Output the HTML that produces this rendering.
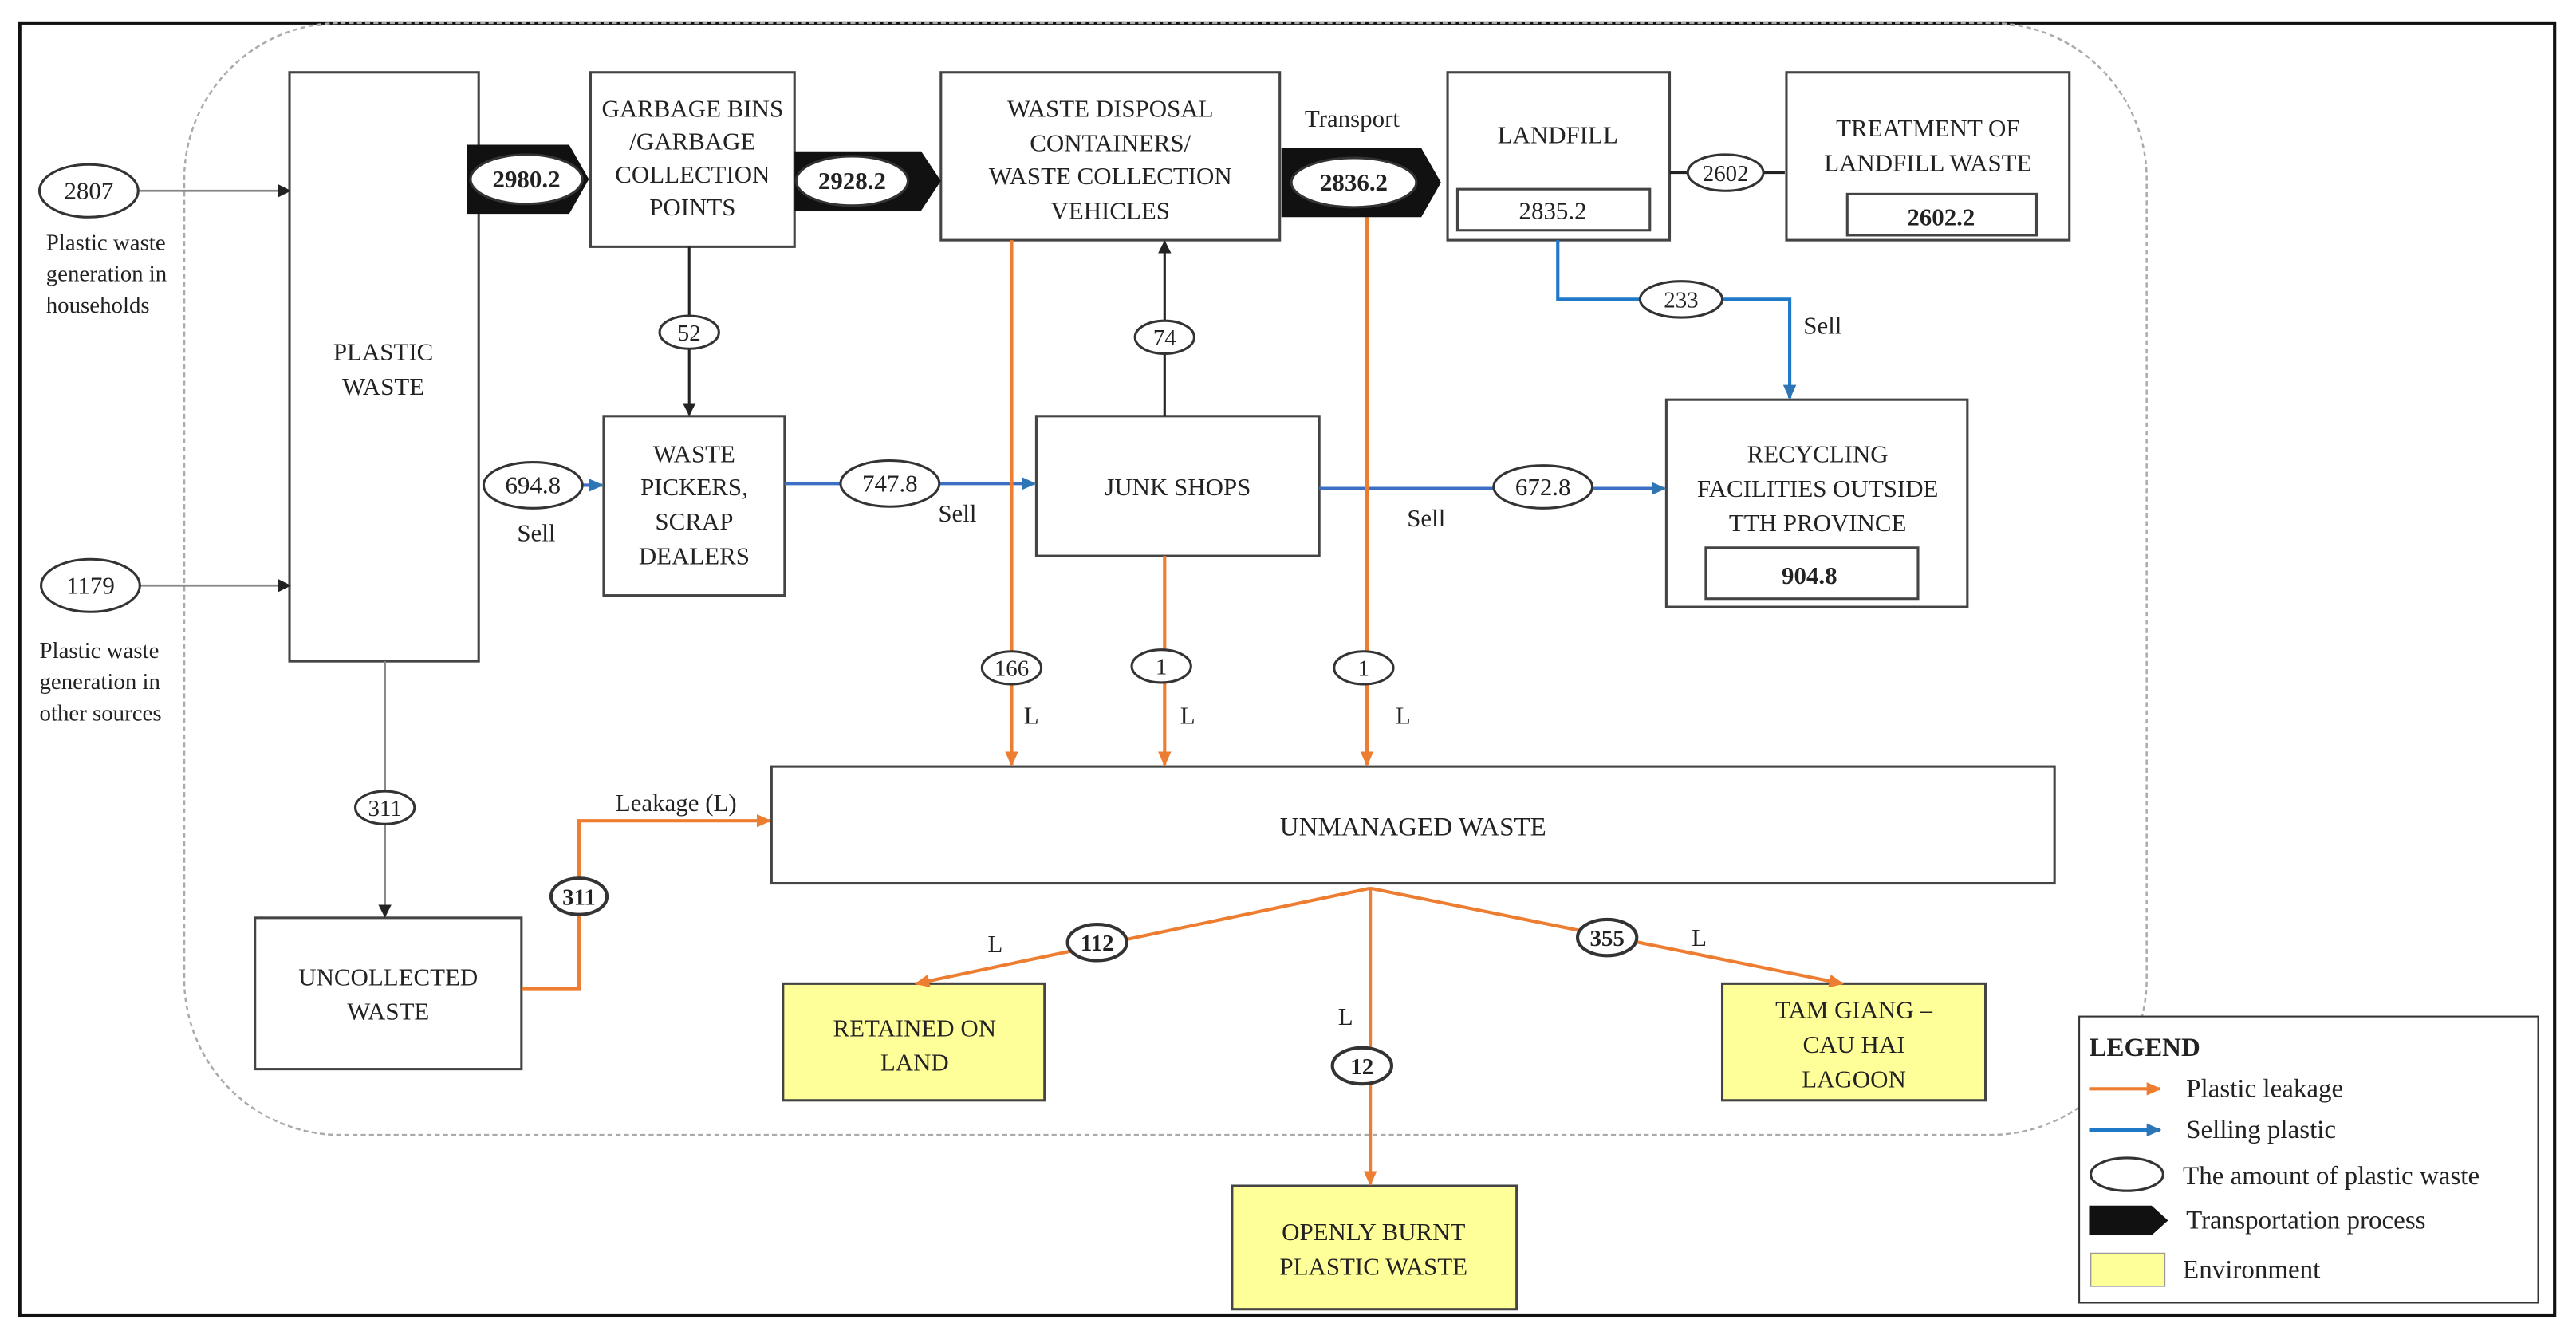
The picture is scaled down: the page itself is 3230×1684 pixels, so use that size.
<!DOCTYPE html>
<html><head><meta charset="utf-8"><style>
html,body{margin:0;padding:0;background:#fff;}
svg{display:block;}
svg text{font-family:'Liberation Serif','Times New Roman','DejaVu Serif',serif;fill:#222;}
</style></head><body>
<svg width="3230" height="1684" viewBox="0 0 1566 816.5" preserveAspectRatio="none" xmlns="http://www.w3.org/2000/svg" font-family="Liberation Serif, Times New Roman, DejaVu Serif, serif">
<defs>
<marker id="ab" markerWidth="8" markerHeight="8" refX="7" refY="4" orient="auto" markerUnits="userSpaceOnUse"><path d="M0,0 L8,4 L0,8 z" fill="#222"/></marker>
<marker id="ag" markerWidth="8" markerHeight="8" refX="7" refY="4" orient="auto" markerUnits="userSpaceOnUse"><path d="M0,0 L8,4 L0,8 z" fill="#222"/></marker>
<marker id="ao" markerWidth="9" markerHeight="8" refX="8" refY="4" orient="auto" markerUnits="userSpaceOnUse"><path d="M0,0 L9,4 L0,8 z" fill="#ed7d31"/></marker>
<marker id="abl" markerWidth="9" markerHeight="8" refX="8" refY="4" orient="auto" markerUnits="userSpaceOnUse"><path d="M0,0 L9,4 L0,8 z" fill="#2e75b6"/></marker>
</defs>
<rect x="12" y="14" width="1541" height="786" fill="#fff" stroke="#111" stroke-width="2"/>
<rect x="112" y="14" width="1193" height="676" rx="95" ry="95" fill="none" stroke="#aaa" stroke-width="1.2" stroke-dasharray="3,2"/>
<g stroke="#444" stroke-width="1.5" fill="#fff">
<rect x="176" y="44" width="115" height="358"/>
<rect x="359" y="44" width="124" height="106"/>
<rect x="572" y="44" width="206" height="102"/>
<rect x="880" y="44" width="135" height="102"/>
<rect x="886" y="115" width="117" height="25"/>
<rect x="1086" y="44" width="172" height="102"/>
<rect x="1123" y="118" width="115" height="25"/>
<rect x="1013" y="243" width="183" height="126"/>
<rect x="1037" y="333" width="129" height="31"/>
<rect x="367" y="253" width="110" height="109"/>
<rect x="630" y="253" width="172" height="85"/>
<rect x="469" y="466" width="780" height="71"/>
<rect x="155" y="558" width="162" height="92"/>
<rect x="476" y="598" width="159" height="71" fill="#ffff99"/>
<rect x="1047" y="598" width="160" height="71" fill="#ffff99"/>
<rect x="749" y="721" width="173" height="75" fill="#ffff99"/>
<rect x="1264" y="618" width="279" height="174" stroke="#333" stroke-width="1"/>
</g>
<g stroke="#888" stroke-width="1.3" fill="none">
<line x1="84" y1="116" x2="176" y2="116" marker-end="url(#ag)"/>
<line x1="85" y1="356" x2="176" y2="356" marker-end="url(#ag)"/>
<line x1="234" y1="402" x2="234" y2="557" marker-end="url(#ag)"/>
</g>
<g stroke="#222" stroke-width="1.5" fill="none">
<line x1="419" y1="150" x2="419" y2="252" marker-end="url(#ab)"/>
<line x1="708" y1="253" x2="708" y2="147" marker-end="url(#ab)"/>
<line x1="1015" y1="105" x2="1085" y2="105"/>
</g>
<g stroke="#3b6fc4" stroke-width="2" fill="none">
<line x1="354" y1="295" x2="366" y2="295" marker-end="url(#abl)"/>
<line x1="477" y1="294" x2="629" y2="294" marker-end="url(#abl)"/>
<line x1="802" y1="297" x2="1012" y2="297" marker-end="url(#abl)"/>
<polyline points="947,146 947,182 1088,182 1088,242" stroke="#1f78c8" marker-end="url(#abl)"/>
</g>
<g stroke="#ed7d31" stroke-width="2" fill="none">
<line x1="615" y1="146" x2="615" y2="465" marker-end="url(#ao)"/>
<line x1="708" y1="338" x2="708" y2="465" marker-end="url(#ao)"/>
<line x1="831" y1="132" x2="831" y2="465" marker-end="url(#ao)"/>
<polyline points="317,601 352,601 352,499 468,499" marker-end="url(#ao)"/>
<line x1="833" y1="540" x2="557" y2="598" marker-end="url(#ao)"/>
<line x1="833" y1="540" x2="833" y2="720" marker-end="url(#ao)"/>
<line x1="833" y1="540" x2="1120" y2="598" marker-end="url(#ao)"/>
</g>
<g fill="#111">
<polygon points="284,88 346,88 358,109 346,130 284,130"/>
<polygon points="483,92 560,92 572,110 560,128 483,128"/>
<polygon points="779,90 864,90 876,111 864,132 779,132"/>
<polygon points="1270,733 1308,733 1318,742 1308,751 1270,751"/>
</g>
<g fill="#fff" stroke="#333" stroke-width="1.5">
<ellipse cx="54" cy="116" rx="30" ry="16"/>
<ellipse cx="55" cy="356" rx="30" ry="16"/>
<ellipse cx="320" cy="109" rx="34" ry="15"/>
<ellipse cx="518" cy="110" rx="34" ry="15"/>
<ellipse cx="823" cy="111" rx="38" ry="15"/>
<ellipse cx="1049" cy="105" rx="23" ry="11"/>
<ellipse cx="1022" cy="182" rx="25" ry="11"/>
<ellipse cx="419" cy="202" rx="18" ry="10"/>
<ellipse cx="708" cy="205" rx="18" ry="10"/>
<ellipse cx="324" cy="295" rx="30" ry="14"/>
<ellipse cx="541" cy="294" rx="30" ry="14"/>
<ellipse cx="938" cy="296" rx="30" ry="13"/>
<ellipse cx="615" cy="406" rx="18" ry="10"/>
<ellipse cx="706" cy="405" rx="18" ry="10"/>
<ellipse cx="829" cy="406" rx="18" ry="10"/>
<ellipse cx="234" cy="491" rx="18" ry="10"/>
<ellipse cx="352" cy="545" rx="17" ry="11" stroke-width="2"/>
<ellipse cx="667" cy="573" rx="18" ry="11" stroke-width="2"/>
<ellipse cx="977" cy="570" rx="18" ry="11" stroke-width="2"/>
<ellipse cx="828" cy="648" rx="18" ry="11" stroke-width="2"/>
<ellipse cx="1293" cy="714" rx="22" ry="10"/>
</g>
<rect x="1271" y="762" width="45" height="20" fill="#ffff99" stroke="#999" stroke-width="0.8"/>
<line x1="1270" y1="662" x2="1313" y2="662" stroke="#ed7d31" stroke-width="2" marker-end="url(#ao)"/>
<line x1="1270" y1="687" x2="1313" y2="687" stroke="#1f78c8" stroke-width="2" marker-end="url(#abl)"/>
<g font-size="15" text-anchor="middle">
<text x="54" y="121">2807</text>
<text x="55" y="361">1179</text>
<text x="320" y="114" font-weight="bold">2980.2</text>
<text x="518" y="115" font-weight="bold">2928.2</text>
<text x="823" y="116" font-weight="bold">2836.2</text>
<text x="1049" y="110" font-size="14">2602</text>
<text x="1022" y="187" font-size="14">233</text>
<text x="419" y="207" font-size="14">52</text>
<text x="708" y="210" font-size="14">74</text>
<text x="324" y="300">694.8</text>
<text x="541" y="299">747.8</text>
<text x="938" y="301">672.8</text>
<text x="615" y="411" font-size="14">166</text>
<text x="706" y="410" font-size="14">1</text>
<text x="829" y="411" font-size="14">1</text>
<text x="234" y="496" font-size="14">311</text>
<text x="352" y="550" font-size="14" font-weight="bold">311</text>
<text x="667" y="578" font-size="14" font-weight="bold">112</text>
<text x="977" y="575" font-size="14" font-weight="bold">355</text>
<text x="828" y="653" font-size="14" font-weight="bold">12</text>
<text x="233" y="219">PLASTIC</text>
<text x="233" y="240">WASTE</text>
<text x="421" y="71">GARBAGE BINS</text>
<text x="421" y="91">/GARBAGE</text>
<text x="421" y="111">COLLECTION</text>
<text x="421" y="131">POINTS</text>
<text x="675" y="71">WASTE DISPOSAL</text>
<text x="675" y="92">CONTAINERS/</text>
<text x="675" y="112">WASTE COLLECTION</text>
<text x="675" y="133">VEHICLES</text>
<text x="822" y="77">Transport</text>
<text x="947" y="87">LANDFILL</text>
<text x="944" y="133">2835.2</text>
<text x="1172" y="83">TREATMENT OF</text>
<text x="1172" y="104">LANDFILL WASTE</text>
<text x="1180" y="137" font-weight="bold">2602.2</text>
<text x="1108" y="203">Sell</text>
<text x="1105" y="281">RECYCLING</text>
<text x="1105" y="302">FACILITIES OUTSIDE</text>
<text x="1105" y="323">TTH PROVINCE</text>
<text x="1100" y="355" font-weight="bold">904.8</text>
<text x="422" y="281">WASTE</text>
<text x="422" y="301">PICKERS,</text>
<text x="422" y="322">SCRAP</text>
<text x="422" y="343">DEALERS</text>
<text x="326" y="329">Sell</text>
<text x="582" y="317">Sell</text>
<text x="716" y="301">JUNK SHOPS</text>
<text x="867" y="320">Sell</text>
<text x="627" y="440">L</text>
<text x="722" y="440">L</text>
<text x="853" y="440">L</text>
<text x="859" y="508" font-size="16" fill="#444">UNMANAGED  WASTE</text>
<text x="236" y="599" fill="#444">UNCOLLECTED</text>
<text x="236" y="620" fill="#444">WASTE</text>
<text x="411" y="493">Leakage (L)</text>
<text x="605" y="579">L</text>
<text x="1033" y="575">L</text>
<text x="818" y="623">L</text>
<text x="556" y="630" fill="#444">RETAINED ON</text>
<text x="556" y="651" fill="#444">LAND</text>
<text x="1127" y="619" fill="#444">TAM GIANG –</text>
<text x="1127" y="640" fill="#444">CAU HAI</text>
<text x="1127" y="661" fill="#444">LAGOON</text>
<text x="835" y="754" fill="#444">OPENLY BURNT</text>
<text x="835" y="775" fill="#444">PLASTIC WASTE</text>
</g>
<g font-size="14">
<text x="28" y="152">Plastic waste</text>
<text x="28" y="171">generation in</text>
<text x="28" y="190">households</text>
<text x="24" y="400">Plastic waste</text>
<text x="24" y="419">generation in</text>
<text x="24" y="438">other sources</text>
</g>
<g font-size="16">
<text x="1270" y="642" font-weight="bold" fill="#000">LEGEND</text>
<text x="1329" y="667">Plastic leakage</text>
<text x="1329" y="692">Selling  plastic</text>
<text x="1327" y="720">The amount of plastic waste</text>
<text x="1329" y="747">Transportation process</text>
<text x="1327" y="777">Environment</text>
</g>
</svg>
</body></html>
